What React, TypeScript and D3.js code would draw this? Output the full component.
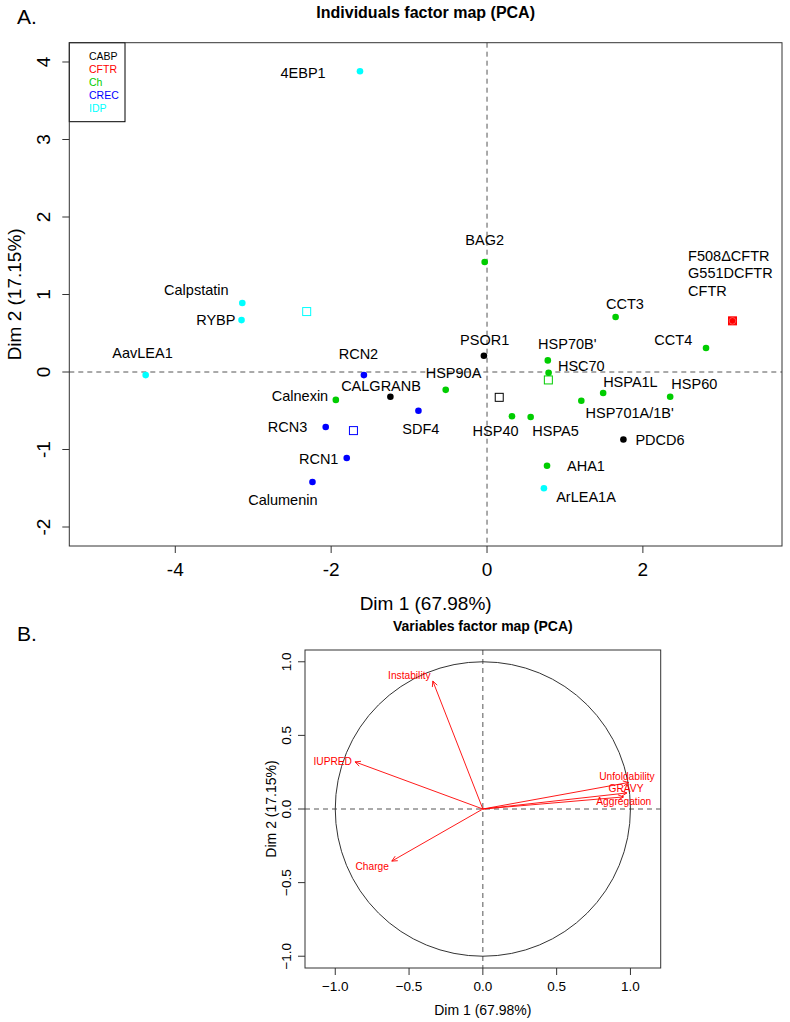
import React from 'react'
import * as d3 from 'd3'

// ---- individuals (Dim 1, Dim 2) ----
const indNames = [
  '4EBP1', 'BAG2', 'CCT3', 'F508ΔCFTR', 'G551DCFTR', 'CFTR', 'CCT4', 'PSOR1', "HSP70B'", 'HSC70',
  'HSP40', 'HSPA5', "HSP701A/1B'", 'HSPA1L', 'HSP60', 'PDCD6', 'AHA1', 'ArLEA1A', 'HSP90A', 'SDF4',
  'CALGRANB', 'RCN2', 'Calnexin', 'RCN3', 'RCN1', 'Calumenin', 'Calpstatin', 'RYBP', 'AavLEA1',
]
const indX = [
  -1.63, -0.03, 1.65, 3.15, 3.15, 3.15, 2.81, -0.04, 0.78, 0.79,
  0.32, 0.56, 1.21, 1.49, 2.35, 1.75, 0.77, 0.73, -0.53, -0.88,
  -1.24, -1.58, -1.94, -2.07, -1.80, -2.24, -3.14, -3.15, -4.38,
]
const indY = [
  3.88, 1.42, 0.71, 0.66, 0.66, 0.66, 0.31, 0.21, 0.15, -0.01,
  -0.57, -0.58, -0.37, -0.27, -0.32, -0.87, -1.21, -1.50, -0.23, -0.50,
  -0.32, -0.04, -0.36, -0.71, -1.11, -1.42, 0.89, 0.67, -0.04,
]
const indGroup = [
  'IDP', 'Ch', 'Ch', 'CFTR', 'CFTR', 'CFTR', 'Ch', 'CABP', 'Ch', 'Ch',
  'Ch', 'Ch', 'Ch', 'Ch', 'Ch', 'CABP', 'Ch', 'IDP', 'Ch', 'CREC',
  'CABP', 'CREC', 'Ch', 'CREC', 'CREC', 'CREC', 'IDP', 'IDP', 'IDP',
]
// where each name sits on the map (data units), anchor
const labelX = [
  -2.36, -0.03, 1.77, 2.58, 2.58, 2.58, 2.39, -0.03, 1.03, 1.21,
  0.11, 0.88, 1.83, 1.84, 2.66, 2.22, 1.27, 1.27, -0.43, -0.85,
  -1.36, -1.65, -2.40, -2.56, -2.16, -2.62, -3.73, -3.48, -4.42,
]
const labelY = [
  3.86, 1.70, 0.88, 1.50, 1.28, 1.05, 0.41, 0.41, 0.36, 0.08,
  -0.76, -0.76, -0.53, -0.13, -0.15, -0.88, -1.21, -1.61, -0.01, -0.74,
  -0.18, 0.23, -0.31, -0.71, -1.12, -1.65, 1.06, 0.67, 0.24,
]
const labelStart = ['F508ΔCFTR', 'G551DCFTR', 'CFTR']

const groups = ['CABP', 'CFTR', 'Ch', 'CREC', 'IDP']
const groupColors = ['#000000', '#FF0000', '#00CD00', '#0000FF', '#00FFFF']

const topXTicks = [-4, -2, 0, 2]
const topYTicks = [-2, -1, 0, 1, 2, 3, 4]

// ---- variables (correlation circle) ----
const varNames = ['Instability', 'IUPRED', 'Unfoldability', 'GRAVY', 'Aggregation', 'Charge']
const varX = [-0.339, -0.866, 0.987, 0.976, 0.953, -0.617]
const varY = [0.869, 0.32, 0.18, 0.109, 0.082, -0.354]
const varLabelX = [-0.498, -1.017, 0.976, 0.97, 0.955, -0.75]
const varLabelY = [0.91, 0.32, 0.22, 0.139, 0.048, -0.39]

const botTicks = [-1, -0.5, 0, 0.5, 1]

const FONT = '"Liberation Sans", Arial, Helvetica, sans-serif'

export default function App() {
  // top panel
  const x = d3.scaleLinear().domain([-5.36, 3.785]).range([69.3, 782])
  const y = d3.scaleLinear().domain([-2.245, 4.249]).range([546, 42.7])
  const [x0, x1] = x.range()
  const [y0, y1] = y.range()
  const color = d3.scaleOrdinal<string, string>().domain(groups).range(groupColors)

  const inds = indNames.map((n, i) => ({ n, x: indX[i], y: indY[i], g: indGroup[i], lx: labelX[i], ly: labelY[i] }))
  const means = groups.map(g => {
    const m = inds.filter(d => d.g === g)
    return { g, x: d3.mean(m, d => d.x) as number, y: d3.mean(m, d => d.y) as number }
  })

  // bottom panel
  const xb = d3.scaleLinear().domain([-1.205, 1.205]).range([305, 660.7])
  const yb = d3.scaleLinear().domain([-1.08, 1.08]).range([968, 650])
  const [bx0, bx1] = xb.range()
  const [by0, by1] = yb.range()
  const vars = varNames.map((n, i) => ({ n, x: varX[i], y: varY[i], lx: varLabelX[i], ly: varLabelY[i] }))

  const arrowHead = (x2: number, y2: number) => {
    const ang = Math.atan2(y2 - yb(0), x2 - xb(0))
    const L = 6, a = Math.PI / 7
    const p1 = [x2 - L * Math.cos(ang - a), y2 - L * Math.sin(ang - a)]
    const p2 = [x2 - L * Math.cos(ang + a), y2 - L * Math.sin(ang + a)]
    return `M${p1[0]},${p1[1]}L${x2},${y2}L${p2[0]},${p2[1]}`
  }

  return (
    <div style={{ position: 'absolute', left: 0, top: 0 }}>
      <svg width={790} height={1022} style={{ display: 'block', background: '#fff' }} fontFamily={FONT}>
        {/* ===== A ===== */}
        <text x={17} y={24} fontSize={21}>A.</text>
        <text x={(x0 + x1) / 2} y={18} fontSize={16} fontWeight="bold" textAnchor="middle">Individuals factor map (PCA)</text>

        <line x1={x(0)} x2={x(0)} y1={y1} y2={y0} stroke="#555" strokeDasharray="5,4" />
        <line x1={x0} x2={x1} y1={y(0)} y2={y(0)} stroke="#555" strokeDasharray="5,4" />

        {inds.map((d, i) => (
          <circle key={'p' + i} cx={x(d.x)} cy={y(d.y)} r={3.3} fill={color(d.g)} />
        ))}
        {means.map(m => (
          <rect key={'m' + m.g} x={x(m.x) - 4} y={y(m.y) - 4} width={8} height={8}
            fill={m.g === 'CFTR' ? color(m.g) : 'none'} stroke={color(m.g)} strokeWidth={1} />
        ))}
        {means.filter(m => m.g === 'CFTR').map(m => (
          <circle key="cf" cx={x(m.x)} cy={y(m.y)} r={3.3} fill="#FF0000" stroke="#ff8080" strokeWidth={0.6} />
        ))}
        {inds.map((d, i) => (
          <text key={'l' + i} x={x(d.lx)} y={y(d.ly)} fontSize={14.5} dominantBaseline="central"
            textAnchor={labelStart.includes(d.n) ? 'start' : 'middle'} fill="#000">{d.n}</text>
        ))}

        {/* legend */}
        <rect x={x0} y={y1} width={55.7} height={79} fill="#fff" stroke="#000" strokeWidth={1} />
        {groups.map((g, i) => (
          <text key={g} x={89} y={55.5 + i * 13.2} fontSize={10.5} dominantBaseline="central" fill={color(g)}>{g}</text>
        ))}

        <rect x={x0} y={y1} width={x1 - x0} height={y0 - y1} fill="none" stroke="#333" strokeWidth={1} />

        {topXTicks.map(t => (
          <g key={'tx' + t}>
            <line x1={x(t)} x2={x(t)} y1={y0} y2={y0 + 7} stroke="#333" />
            <text x={x(t)} y={569} fontSize={19} textAnchor="middle" dominantBaseline="central">{t}</text>
          </g>
        ))}
        {topYTicks.map(t => (
          <g key={'ty' + t}>
            <line x1={x0 - 7} x2={x0} y1={y(t)} y2={y(t)} stroke="#333" />
            <text transform={`translate(43,${y(t)}) rotate(-90)`} fontSize={19} textAnchor="middle" dominantBaseline="central">{t}</text>
          </g>
        ))}
        <text x={(x0 + x1) / 2} y={603} fontSize={19} textAnchor="middle" dominantBaseline="central">Dim 1 (67.98%)</text>
        <text transform={`translate(14,${(y0 + y1) / 2}) rotate(-90)`} fontSize={19} textAnchor="middle" dominantBaseline="central">Dim 2 (17.15%)</text>

        {/* ===== B ===== */}
        <text x={17} y={641} fontSize={21}>B.</text>
        <text x={(bx0 + bx1) / 2} y={631} fontSize={14} fontWeight="bold" textAnchor="middle">Variables factor map (PCA)</text>

        <line x1={xb(0)} x2={xb(0)} y1={by1} y2={by0} stroke="#555" strokeDasharray="5,4" />
        <line x1={bx0} x2={bx1} y1={yb(0)} y2={yb(0)} stroke="#555" strokeDasharray="5,4" />
        <ellipse cx={xb(0)} cy={yb(0)} rx={xb(1) - xb(0)} ry={yb(0) - yb(1)} fill="none" stroke="#333" strokeWidth={1} />

        {vars.map(v => (
          <g key={v.n}>
            <line x1={xb(0)} y1={yb(0)} x2={xb(v.x)} y2={yb(v.y)} stroke="#FF0000" strokeWidth={0.9} />
            <path d={arrowHead(xb(v.x), yb(v.y))} fill="none" stroke="#FF0000" strokeWidth={0.9} />
            <text x={xb(v.lx)} y={yb(v.ly)} fontSize={10.2} fill="#FF0000" textAnchor="middle" dominantBaseline="central">{v.n}</text>
          </g>
        ))}

        <rect x={bx0} y={by1} width={bx1 - bx0} height={by0 - by1} fill="none" stroke="#333" strokeWidth={1} />
        {botTicks.map(t => (
          <g key={'bx' + t}>
            <line x1={xb(t)} x2={xb(t)} y1={by0} y2={by0 + 7} stroke="#333" />
            <text x={xb(t)} y={986} fontSize={13.5} textAnchor="middle" dominantBaseline="central">{d3.format('.1f')(t)}</text>
          </g>
        ))}
        {botTicks.map(t => (
          <g key={'by' + t}>
            <line x1={bx0 - 7} x2={bx0} y1={yb(t)} y2={yb(t)} stroke="#333" />
            <text transform={`translate(286,${yb(t)}) rotate(-90)`} fontSize={13.5} textAnchor="middle" dominantBaseline="central">{d3.format('.1f')(t)}</text>
          </g>
        ))}
        <text x={(bx0 + bx1) / 2} y={1010} fontSize={14} textAnchor="middle" dominantBaseline="central">Dim 1 (67.98%)</text>
        <text transform={`translate(271,${(by0 + by1) / 2}) rotate(-90)`} fontSize={14} textAnchor="middle" dominantBaseline="central">Dim 2 (17.15%)</text>
      </svg>
    </div>
  )
}
